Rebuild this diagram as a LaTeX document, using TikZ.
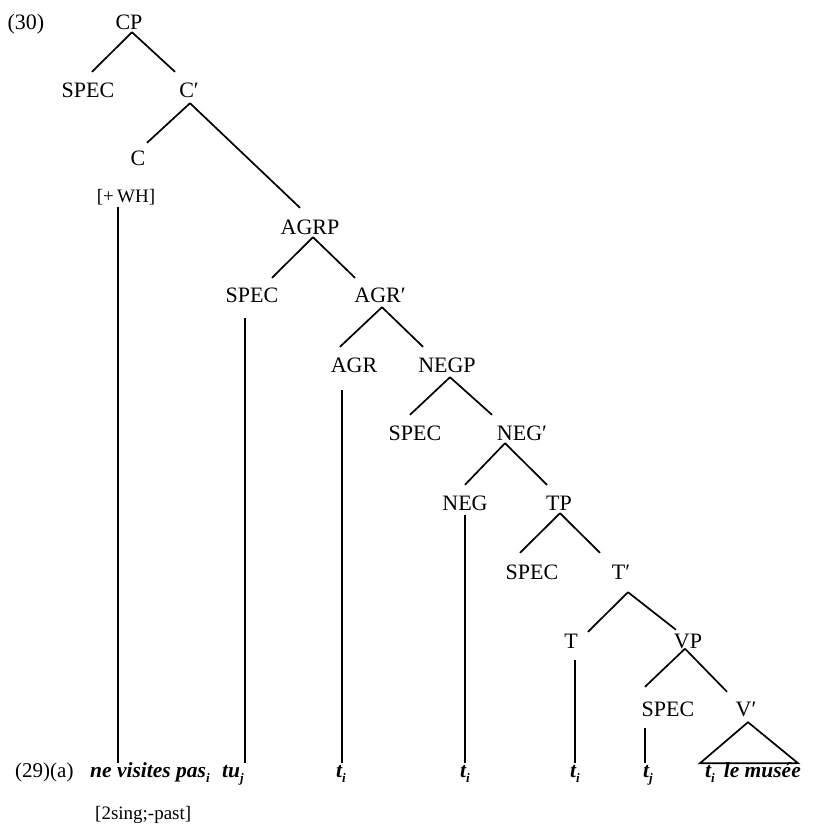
\documentclass[tikz,border=0pt]{standalone}
\usepackage{fontspec}
\setmainfont{Liberation Serif}
\newcommand\sbs[1]{\raisebox{-5pt}{\fontsize{13}{13}\selectfont #1}}
\begin{document}
\begin{tikzpicture}[x=1pt,y=-1pt,
  lab/.style={inner sep=0pt,text height=15pt,text depth=0pt,font=\fontsize{22}{26}\selectfont},
  feat/.style={inner sep=0pt,anchor=base,font=\fontsize{19}{22}\selectfont},
  word/.style={inner sep=0pt,anchor=base west,font=\fontsize{21.5}{24}\selectfont\bfseries\itshape},
  edge/.style={draw=black,line width=1.7pt},
]
\path[use as bounding box] (0,0) rectangle (816,825);

% tree labels
\node[lab] (ex30) at (26,22) {(30)};
\node[lab] (cp) at (129,22) {CP};
\node[lab] (s1) at (88,90) {SPEC};
\node[lab] (c1) at (189,90) {C′};
\node[lab] (c) at (138,158) {C};
\node[feat] (wh) at (126,202) {[+\,WH]};
\node[lab] (agrp) at (310,227) {AGRP};
\node[lab] (s2) at (252,295) {SPEC};
\node[lab] (a1) at (380,295) {AGR′};
\node[lab] (agr) at (354,365) {AGR};
\node[lab] (negp) at (447,365) {NEGP};
\node[lab] (s3) at (415,433) {SPEC};
\node[lab] (n1) at (522,433) {NEG′};
\node[lab] (neg) at (465,503) {NEG};
\node[lab] (tp) at (559,503) {TP};
\node[lab] (s4) at (532,572) {SPEC};
\node[lab] (t1) at (621,572) {T′};
\node[lab] (t) at (571,641) {T};
\node[lab] (vp) at (688,641) {VP};
\node[lab] (s5) at (668,709) {SPEC};
\node[lab] (v1) at (746,709) {V′};

% bottom string
\node[inner sep=0pt,anchor=base west,font=\fontsize{21}{24}\selectfont] (ex29) at (15,777) {(29)(a)};
\node[word] (w1) at (90,777) {ne visites pas\sbs{i}};
\node[word] (w2) at (222,777) {tu\sbs{j}};
\node[word] (w3) at (336,777) {t\sbs{i}};
\node[word] (w4) at (460,777) {t\sbs{i}};
\node[word] (w5) at (570,777) {t\sbs{i}};
\node[word] (w6) at (643,777) {t\sbs{j}};
\node[word] (w7) at (705,777) {t\sbs{i}\hspace{9pt}le musée};
\node[feat,anchor=base west] (past) at (95,819) {[2sing;-past]};

% branches
\draw[edge] ([shift={(3,2.5)}]cp.south) -- ([shift={(4,-10.5)}]s1.north);
\draw[edge] ([shift={(3,2.5)}]cp.south) -- ([shift={(-14,-10.5)}]c1.north);
\draw[edge] ([shift={(1,5.5)}]c1.south) -- ([shift={(9,-7.5)}]c.north);
\draw[edge] ([shift={(1,5.5)}]c1.south) -- ([shift={(-10,-11.5)}]agrp.north);
\draw[edge] ([shift={(3,2.5)}]agrp.south) -- ([shift={(20,-9.5)}]s2.north);
\draw[edge] ([shift={(3,2.5)}]agrp.south) -- ([shift={(-25,-9.5)}]a1.north);
\draw[edge] ([shift={(2,4.5)}]a1.south) -- ([shift={(-14,-10.5)}]agr.north);
\draw[edge] ([shift={(2,4.5)}]a1.south) -- ([shift={(-24,-10.5)}]negp.north);
\draw[edge] ([shift={(3,4.5)}]negp.south) -- ([shift={(-5,-10.5)}]s3.north);
\draw[edge] ([shift={(3,4.5)}]negp.south) -- ([shift={(-30,-10.5)}]n1.north);
\draw[edge] ([shift={(-17,2.5)}]n1.south) -- ([shift={(0,-10.5)}]neg.north);
\draw[edge] ([shift={(-17,2.5)}]n1.south) -- ([shift={(-12,-10.5)}]tp.north);
\draw[edge] ([shift={(1,2.5)}]tp.south) -- ([shift={(-12,-11.5)}]s4.north);
\draw[edge] ([shift={(1,2.5)}]tp.south) -- ([shift={(-21,-11.5)}]t1.north);
\draw[edge] ([shift={(7,12.5)}]t1.south) -- ([shift={(17,-1.5)}]t.north);
\draw[edge] ([shift={(7,12.5)}]t1.south) -- ([shift={(-12,-3.5)}]vp.north);
\draw[edge] ([shift={(-3,0)}]vp.south) -- ([shift={(-23,-14.5)}]s5.north);
\draw[edge] ([shift={(-3,0)}]vp.south) -- ([shift={(-19,-9.5)}]v1.north);

% triangle under V'
\draw[edge,line join=miter] ([shift={(2,5.5)}]v1.south) -- ([shift={(-46,46.5)}]v1.south) -- ([shift={(52,46.5)}]v1.south) -- cycle;

% vertical association lines
\draw[edge] ([shift={(-8,2)}]wh.south) -- ([shift={(28,-14)}]w1.base west);
\draw[edge] ([shift={(-7,15.5)}]s2.south) -- ([shift={(23,-14)}]w2.base west);
\draw[edge] ([shift={(-12,17.5)}]agr.south) -- ([shift={(6,-14)}]w3.base west);
\draw[edge] ([shift={(0,4.5)}]neg.south) -- ([shift={(5,-14)}]w4.base west);
\draw[edge] ([shift={(4,11.5)}]t.south) -- ([shift={(5,-14)}]w5.base west);
\draw[edge] ([shift={(-23,11.5)}]s5.south) -- ([shift={(2,-14)}]w6.base west);
\end{tikzpicture}
\end{document}
